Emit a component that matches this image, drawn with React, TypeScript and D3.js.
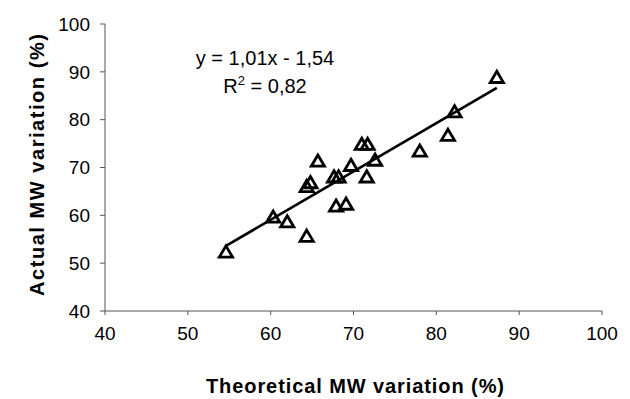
import React from "react";
import * as d3 from "d3";

const theoretical = [54.6, 60.3, 62.0, 64.35, 64.35, 64.8, 65.7, 67.65, 68.2, 67.9, 69.1, 69.7, 71.6, 72.6, 71.0, 71.7, 78.0, 81.4, 82.2, 87.3];
const actual = [52.4, 59.7, 58.7, 55.7, 66.1, 66.9, 71.4, 68.1, 68.1, 62.0, 62.4, 70.5, 68.1, 71.6, 74.9, 74.9, 73.5, 76.8, 81.7, 88.9];
const xTicks = [40, 50, 60, 70, 80, 90, 100];
const yTicks = [40, 50, 60, 70, 80, 90, 100];
const slope = 1.01;
const intercept = -1.54;
const eqLine1 = "y = 1,01x - 1,54";
const r2Value = "0,82";
const xTitle = "Theoretical MW variation (%)";
const yTitle = "Actual MW variation (%)";

const W = 630;
const H = 399;
const font = "Arial, 'Liberation Sans', Helvetica, sans-serif";

export default function App() {
  const x = d3.scaleLinear().domain([40, 100]).range([105, 602]);
  const y = d3.scaleLinear().domain([40, 100]).range([311, 24]);
  const xMin = d3.min(theoretical) as number;
  const xMax = d3.max(theoretical) as number;
  const line = d3.line<number>().x((d) => x(d)).y((d) => y(slope * d + intercept));
  const tri = "M0,-5.8L6.6,5.4L-6.6,5.4Z";
  const axisColor = "#555";
  return (
    <svg width={W} height={H} style={{ position: "absolute", left: 0, top: 0, background: "#fff" }} fontFamily={font}>
      <rect width={W} height={H} fill="#fff" />
      {/* axes */}
      <line x1={x(40)} x2={x(100)} y1={y(40)} y2={y(40)} stroke={axisColor} strokeWidth={1} />
      <line x1={x(40)} x2={x(40)} y1={y(40)} y2={y(100)} stroke={axisColor} strokeWidth={1} />
      {xTicks.map((t) => (
        <g key={"x" + t}>
          <line x1={x(t)} x2={x(t)} y1={y(40)} y2={y(40) + 4} stroke={axisColor} strokeWidth={1} />
          <text x={x(t)} y={340} fontSize={19} textAnchor="middle" fill="#000">{t}</text>
        </g>
      ))}
      {yTicks.map((t) => (
        <g key={"y" + t}>
          <line x1={x(40) - 5} x2={x(40)} y1={y(t)} y2={y(t)} stroke={axisColor} strokeWidth={1} />
          <text x={90} y={y(t) + 6.8} fontSize={19} textAnchor="end" fill="#000">{t}</text>
        </g>
      ))}
      {/* regression line */}
      <path d={line([xMin, xMax]) || ""} fill="none" stroke="#000" strokeWidth={2.7} />
      {/* points */}
      {theoretical.map((d, i) => (
        <path key={i} d={tri} transform={`translate(${x(d)},${y(actual[i])})`} fill="none" stroke="#000" strokeWidth={2.8} strokeLinejoin="miter" />
      ))}
      {/* equation */}
      <text x={265} y={65} fontSize={20} textAnchor="middle" fill="#000">{eqLine1}</text>
      <text x={265} y={93} fontSize={20} textAnchor="middle" fill="#000">
        R<tspan fontSize={13} dy={-8}>2</tspan><tspan dy={8}>{" = " + r2Value}</tspan>
      </text>
      {/* titles */}
      <text x={355} y={393} fontSize={20} fontWeight="bold" textAnchor="middle" textLength={298} lengthAdjust="spacing" fill="#000">{xTitle}</text>
      <text transform={`translate(44,165) rotate(-90)`} fontSize={20} fontWeight="bold" textAnchor="middle" textLength={262} lengthAdjust="spacing" fill="#000">{yTitle}</text>
    </svg>
  );
}
